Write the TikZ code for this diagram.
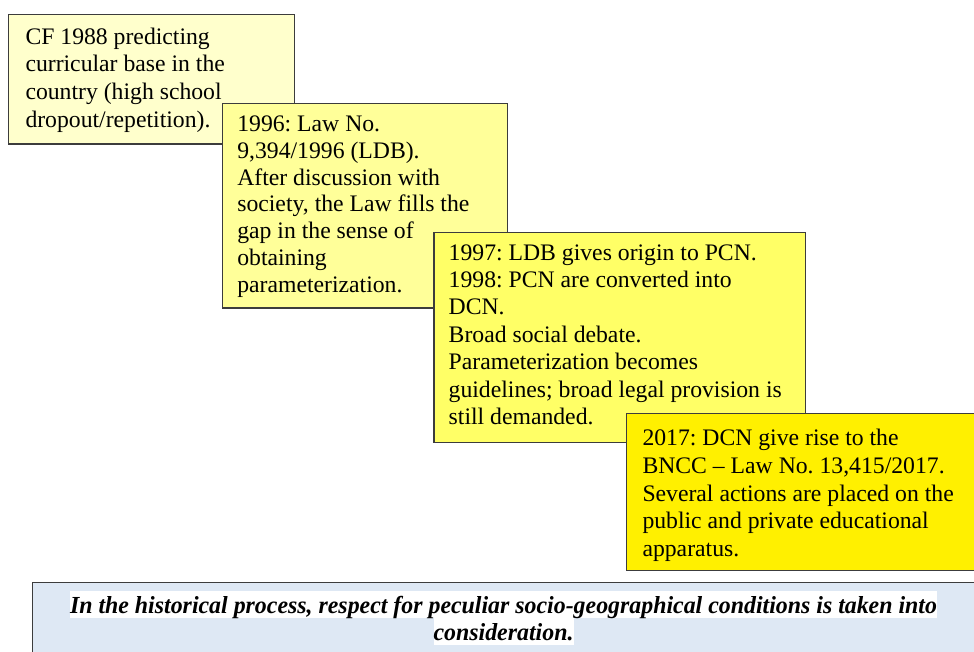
\documentclass[tikz,border=0pt]{standalone}
\usepackage{fontspec}
\usepackage{graphicx}
\setmainfont{Liberation Serif}
\frenchspacing
\definecolor{bxA}{HTML}{FFFFCC}
\definecolor{bxB}{HTML}{FFFF99}
\definecolor{bxC}{HTML}{FFFF66}
\definecolor{bxD}{HTML}{FFF000}
\definecolor{bxE}{HTML}{DEE8F4}
\definecolor{bxline}{HTML}{3C3C3C}
\tikzset{
  panel/.style={draw=bxline, line width=1.4pt, rectangle, anchor=north west, inner sep=0pt, outer sep=0pt},
  body/.style={anchor=north west, inner sep=0pt, outer sep=0pt, align=left, text=black},
  hl/.style={fill=white, inner xsep=0pt, inner ysep=0pt, anchor=base, text height=22.5pt, text depth=4.5pt,
    font=\fontsize{24.5}{27}\selectfont\bfseries\itshape}
}
\begin{document}
\begin{tikzpicture}[x=1pt,y=-1pt]
\useasboundingbox (0,0) rectangle (974,651);
\clip (0,0) rectangle (974,651);
% panels
\node[panel, fill=bxA, minimum width=286.4pt, minimum height=129.7pt] (p1) at (8.3,14.3) {};
\node[body, font=\fontsize{23.7}{27.6}\selectfont] (t1) at ([shift={(17.2,13.5)}]p1.north west)
  {CF 1988 predicting\\curricular base in the\\country (high school\\dropout/repetition).};
\node[panel, fill=bxB, minimum width=285.4pt, minimum height=204.7pt] (p2) at (222.3,103.3) {};
\node[body, font=\fontsize{23.7}{26.9}\selectfont] (t2) at ([shift={(15,12.3)}]p2.north west)
  {1996: Law No.\\9,394/1996 (LDB).\\After discussion with\\society, the Law fills the\\gap in the sense of\\obtaining\\parameterization.};
\node[panel, fill=bxC, minimum width=371.7pt, minimum height=210pt] (p3) at (434,232.3) {};
\node[body, font=\fontsize{23.7}{27.4}\selectfont] (t3) at ([shift={(14.7,12.2)}]p3.north west)
  {1997: LDB gives origin to PCN.\\1998: PCN are converted into\\DCN.\\Broad social debate.\\Parameterization becomes\\guidelines; broad legal provision is\\still demanded.};
\node[panel, fill=bxD, minimum width=360pt, minimum height=157.4pt] (p4) at (626.7,413.3) {};
\node[body, font=\fontsize{23.7}{27.9}\selectfont] (t4) at ([shift={(15.8,15.5)}]p4.north west)
  {2017: DCN give rise to the\\BNCC -- Law No. 13,415/2017.\\Several actions are placed on the\\public and private educational\\apparatus.};
% bottom banner
\node[panel, fill=bxE, minimum width=960pt, minimum height=100pt] (p5) at (32.7,582.7) {};
\node[hl] (c1) at (503.5,613.3) {\resizebox{867pt}{\height}{In the historical process, respect for peculiar socio-geographical conditions is taken into}};
\node[hl] (c2) at (503.5,640.3) {\resizebox{140pt}{\height}{consideration.}};
\end{tikzpicture}
\end{document}
